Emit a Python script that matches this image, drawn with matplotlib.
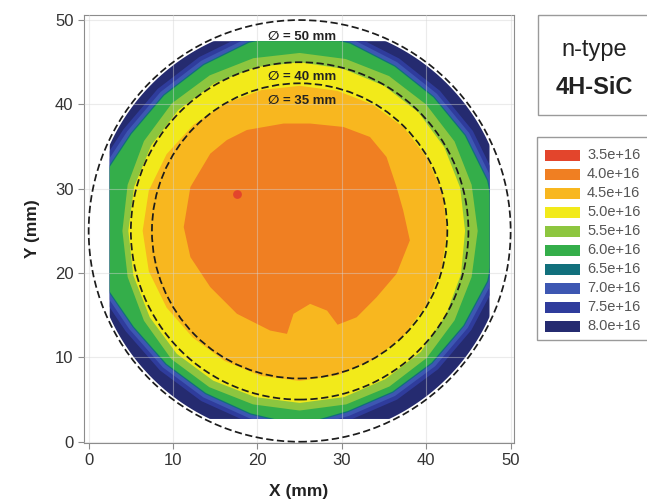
import numpy as np
import matplotlib.pyplot as plt
from matplotlib.patches import Circle, Rectangle, Polygon

plt.rcParams['font.family'] = ['Liberation Sans', 'DejaVu Sans']

# concentration classes shown in the key (cm^-3)
level_labels = ["3.5e+16", "4.0e+16", "4.5e+16", "5.0e+16", "5.5e+16",
                "6.0e+16", "6.5e+16", "7.0e+16", "7.5e+16", "8.0e+16"]
level_colors = ["#e3452c", "#f07f22", "#f8b71f", "#f2ea1a", "#8dc63f",
                "#34ae4a", "#11707c", "#3d57b2", "#2f3c9c", "#252b70"]

# wafer and scanned area (mm)
wafer_c = (25.0, 25.0)
wafer_r = 24.7
scan_x = (2.5, 47.5)
scan_y = (2.7, 47.5)

# iso-concentration lines: outer radius (mm) of each class
# at each polar angle (deg) around the wafer centre
ang_out = [0, 15, 30, 45, 60, 75, 90, 105, 120, 135, 150, 165,
           180, 195, 210, 225, 240, 255, 270, 285, 300, 315, 330, 345]
r_75 = [24.6, 24.1, 23.7, 23.5, 23.6, 24.1, 24.7, 24.2, 23.8, 23.8, 24.1, 25.3,
        25.6, 25.1, 23.8, 23.4, 23.3, 23.5, 24.1, 23.2, 23.1, 23.2, 23.5, 24.1]
r_70 = [24.1, 23.6, 23.2, 23.0, 23.1, 23.6, 24.2, 23.7, 23.3, 23.3, 23.6, 24.8,
        25.1, 24.6, 23.3, 22.9, 22.8, 23.0, 23.6, 22.7, 22.6, 22.7, 23.0, 23.6]
r_65 = [23.65, 23.15, 22.75, 22.55, 22.65, 23.15, 23.75, 23.25, 22.85, 22.85,
        23.15, 24.35, 24.65, 24.15, 22.85, 22.45, 22.35, 22.55, 23.15, 22.25,
        22.15, 22.25, 22.55, 23.15]
r_60 = [23.5, 23.0, 22.6, 22.4, 22.5, 23.0, 23.6, 23.1, 22.7, 22.7, 23.0, 24.2,
        24.5, 24.0, 22.7, 22.3, 22.2, 22.4, 23.0, 22.1, 22.0, 22.1, 22.4, 23.0]
r_55 = [21.1, 21.1, 21.2, 21.2, 21.2, 21.1, 21.1, 21.2, 21.3, 21.4, 21.3, 21.1,
        21.0, 21.1, 21.3, 21.5, 21.4, 21.3, 21.3, 21.3, 21.3, 21.3, 21.2, 21.1]
r_50 = [19.6, 19.7, 19.8, 19.9, 19.9, 19.9, 20.0, 20.1, 20.2, 20.3, 20.3, 20.3,
        20.3, 20.4, 20.5, 20.6, 20.5, 20.4, 20.4, 20.4, 20.3, 20.3, 20.0, 19.8]
r_45 = [17.5, 17.5, 17.4, 17.4, 17.3, 17.2, 17.2, 17.3, 17.5, 17.8, 18.2, 18.5,
        18.6, 18.5, 18.2, 17.9, 17.8, 17.8, 17.8, 17.7, 17.6, 17.5, 17.4, 17.4]

# low-doped core (4.0e16 class), with the notch near the bottom
ang_core = [11.2, 24.4, 40.4, 53.2, 67.2, 84.4, 98.5, 117.6, 128.7, 139.1,
            158.1, 178.1, 193.5, 212.2, 232.9, 253.5, 263.0, 265.8, 278.2,
            289.0, 292.0, 303.4, 319.2, 336.1, 355.1]
r_40 = [12.51, 12.61, 13.52, 13.91, 13.37, 12.79, 12.87, 13.5, 13.8, 14.0,
        13.95, 13.74, 13.31, 12.51, 12.32, 12.32, 12.30, 9.86, 8.74,
        10.0, 12.0, 12.27, 12.04, 12.56, 13.11]

# single minimum spot (3.5e16 class)
spot_x = [17.6]
spot_y = [29.4]

# reference diameters drawn as dashed circles
ref_diam = [50, 40, 35]


def ring(ang, rad):
    a = np.radians(ang)
    return np.column_stack([wafer_c[0] + np.asarray(rad) * np.cos(a),
                            wafer_c[1] + np.asarray(rad) * np.sin(a)])


fig = plt.figure(figsize=(6.47, 5.03), dpi=100)
ax = fig.add_axes([84 / 647, 60 / 503, 430 / 647, 428 / 503])

# outline of the mapped area: wafer disc cut by the scan window
t = np.linspace(0, 2 * np.pi, 721)
outline = np.column_stack([
    np.clip(wafer_c[0] + wafer_r * np.cos(t), *scan_x),
    np.clip(wafer_c[1] + wafer_r * np.sin(t), *scan_y)])
clip = Polygon(outline, closed=True, transform=ax.transData)

bands = [(r_75, ang_out, 8), (r_70, ang_out, 7), (r_65, ang_out, 6),
         (r_60, ang_out, 5), (r_55, ang_out, 4), (r_50, ang_out, 3),
         (r_45, ang_out, 2), (r_40, ang_core, 1)]

base = Polygon(outline, closed=True, fc=level_colors[9], ec='none', zorder=1)
ax.add_patch(base)
for rad, ang, ci in bands:
    p = Polygon(ring(ang, rad), closed=True, fc=level_colors[ci], ec='none', zorder=1)
    ax.add_patch(p)
    p.set_clip_path(clip)

ax.scatter(spot_x, spot_y, s=40, color=level_colors[0], zorder=1.5, lw=0)

for d in ref_diam:
    ax.add_patch(Circle(wafer_c, d / 2, fill=False, ls=(0, (4.2, 2.0)),
                        lw=1.25, color='#1c1c1c', zorder=3))

for d, yy in zip(ref_diam, [48.0, 43.2, 40.4]):
    ax.text(25.3, yy, f"\u2205 = {d} mm", ha='center', va='center',
            fontsize=9.5, fontweight='bold', color='#222222', zorder=4)

ax.set_xlim(-0.55, 50.4)
ax.set_ylim(-0.15, 50.6)
ax.set_xticks([0, 10, 20, 30, 40, 50])
ax.set_yticks([0, 10, 20, 30, 40, 50])
ax.set_axisbelow(False)
ax.grid(color='#d4d4d4', lw=0.8, alpha=0.45)
for s in ax.spines.values():
    s.set_color('#8c8c8c')
ax.tick_params(colors='#8c8c8c', labelcolor='#333333', labelsize=12, length=4)
ax.set_xlabel("X (mm)", fontsize=12.5, fontweight='bold', color='#222222', labelpad=11)
ax.set_ylabel("Y (mm)", fontsize=12.5, fontweight='bold', color='#222222', labelpad=11)

# key panels, laid out in pixel units of the figure
ov = fig.add_axes([0, 0, 1, 1], zorder=-1)
ov.set_xlim(0, 647)
ov.set_ylim(503, 0)
ov.axis('off')
ov.add_patch(Rectangle((538, 15), 130, 100, fill=False, ec='#9a9a9a', lw=1))
ov.text(594, 50, "n-type", ha='center', va='center', fontsize=17, color='#222222')
ov.text(594, 87, "4H-SiC", ha='center', va='center', fontsize=17,
        fontweight='bold', color='#222222')

ov.add_patch(Rectangle((537, 137), 130, 203, fill=False, ec='#9a9a9a', lw=1))
for i, (lab, col) in enumerate(zip(level_labels, level_colors)):
    yc = 155 + 19 * i
    ov.add_patch(Rectangle((545, yc - 5.5), 35, 11, fc=col, ec='none'))
    ov.text(587, yc, lab, ha='left', va='center', fontsize=10.5, color='#555555')

fig.savefig("out.png", dpi=100)
